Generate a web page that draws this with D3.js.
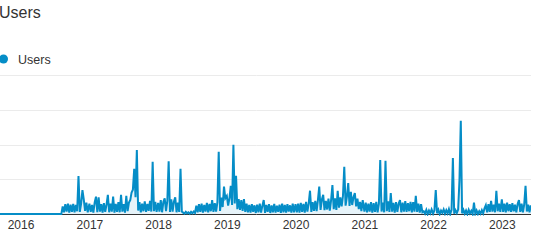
<!DOCTYPE html>
<html>
<head>
<meta charset="utf-8">
<script src="https://cdn.jsdelivr.net/npm/d3@7"></script>
<style>
    html, body { margin: 0; padding: 0; background: #fff; }
    svg { display: block; font-family: Arial, "Liberation Sans", sans-serif; }
</style>
</head>
<body>
<script>
// weekly users, one array per year (2015 starts mid september)
var users2015 = [0,0,0,0,0,0,0,0,0,0,0,0,0,0,0,0];
var users2016 = [0,0,0,0,0,0,0,0,0,0,0,0,0,0,0,0,0,0,0,0,0,0,0,0,0,0,0,0,0,0,0,0,
    22,5,28,7,30,4,27,6,29,5,26,8,109,6,30,69,42,9,33,5];
var users2017 = [30,6,26,4,33,50,5,48,7,28,4,31,6,27,55,5,30,7,50,4,29,6,34,5,55,7,
    28,4,52,8,33,40,62,70,130,48,184,10,34,5,30,8,36,6,29,9,38,7,150,8,35,6];
var users2018 = [32,7,40,5,35,45,8,38,152,6,42,7,36,48,5,33,6,130,7,4,1,6,2,5,1,6,
    2,7,3,24,5,28,6,30,4,26,7,32,5,29,8,40,6,31,7,34,179,9,47,20,79,45];
var users2019 = [52,24,45,81,26,199,30,110,14,43,12,40,9,43,6,30,5,26,4,28,6,25,3,27,5,30,
    4,24,40,3,26,6,28,3,25,5,29,4,24,6,27,3,30,5,26,4,28,7,25,4,30,5];
var users2020 = [28,5,30,4,32,6,29,4,35,7,30,67,6,34,9,38,8,40,79,12,42,55,11,38,13,44,
    10,40,83,14,45,12,67,18,48,22,52,136,24,50,89,23,64,26,48,60,22,44,14,35,8,40];
var users2021 = [7,33,5,30,7,34,4,31,6,35,5,30,155,7,33,5,153,8,36,6,60,7,32,4,34,6,
    30,40,5,33,7,37,6,31,8,35,5,34,7,52,6,30,4,28,5,8,1,12,0,10,2,13];
var users2022 = [1,11,69,2,12,0,10,3,13,1,11,2,14,0,12,161,1,11,3,13,98,268,2,12,1,10,
    0,12,2,9,0,33,1,10,0,8,1,11,2,16,25,5,28,6,38,7,27,5,67,8,30,6];
var users2023 = [42,6,30,5,33,8,28,6,31,8,27,5,29,40,6,30,5,28,81,7,27,5,25];

var yearLabels = ["2016", "2017", "2018", "2019", "2020", "2021", "2022", "2023"];
var gridValues = [100, 200, 300, 400];

var width = 545, height = 246;
var plot = { left: 0, right: 531, top: 75, bottom: 214 };

var blocks = [
    { start: new Date(2015, 8, 14), values: users2015 },
    { start: new Date(2016, 0, 1), values: users2016 },
    { start: new Date(2017, 0, 1), values: users2017 },
    { start: new Date(2018, 0, 1), values: users2018 },
    { start: new Date(2019, 0, 1), values: users2019 },
    { start: new Date(2020, 0, 1), values: users2020 },
    { start: new Date(2021, 0, 1), values: users2021 },
    { start: new Date(2022, 0, 1), values: users2022 },
    { start: new Date(2023, 0, 1), values: users2023 }
];

var data = [];
blocks.forEach(function(b) {
    b.values.forEach(function(v, k) {
        var d = new Date(b.start);
        d.setDate(d.getDate() + 7 * k);
        data.push({ date: d, value: v });
    });
});

var x = d3.scaleTime()
    .domain([new Date(2015, 8, 14), new Date(2023, 5, 5)])
    .range([plot.left, plot.right]);
var y = d3.scaleLinear()
    .domain([0, 400])
    .range([plot.bottom, plot.top]);

var svg = d3.select("body").append("svg")
    .attr("width", width)
    .attr("height", height);

// title and legend
svg.append("text")
    .attr("x", -1)
    .attr("y", 18)
    .attr("font-size", 16)
    .attr("fill", "#333")
    .text("Users");

svg.append("circle")
    .attr("cx", 3.5)
    .attr("cy", 59)
    .attr("r", 4.5)
    .attr("fill", "#058dc7");

svg.append("text")
    .attr("x", 18)
    .attr("y", 63.5)
    .attr("font-size", 12.5)
    .attr("fill", "#333")
    .text("Users");

// gridlines
svg.append("g")
    .selectAll("line")
    .data(gridValues)
    .enter().append("line")
    .attr("x1", plot.left)
    .attr("x2", plot.right)
    .attr("y1", function(d) { return Math.round(y(d)) + 0.5; })
    .attr("y2", function(d) { return Math.round(y(d)) + 0.5; })
    .attr("stroke", "#ebebeb")
    .attr("stroke-width", 1);

// x axis labels
var xAxis = d3.axisBottom(x)
    .tickValues(yearLabels.map(function(s) { return new Date(+s, 0, 1); }))
    .tickFormat(d3.timeFormat("%Y"))
    .tickSize(0)
    .tickPadding(0);

var gx = svg.append("g")
    .attr("transform", "translate(0," + plot.bottom + ")")
    .call(xAxis);
gx.select(".domain").remove();
gx.selectAll("text")
    .attr("y", 15)
    .attr("dy", 0)
    .attr("font-size", 12)
    .attr("font-family", "Arial, 'Liberation Sans', sans-serif")
    .attr("fill", "#333");

// axis baseline
svg.append("line")
    .attr("x1", plot.left)
    .attr("x2", plot.right)
    .attr("y1", plot.bottom + 0.5)
    .attr("y2", plot.bottom + 0.5)
    .attr("stroke", "#333")
    .attr("stroke-width", 1);

svg.append("clipPath")
    .attr("id", "clip")
    .append("rect")
    .attr("x", plot.left)
    .attr("y", 0)
    .attr("width", plot.right - plot.left)
    .attr("height", plot.bottom + 2);

var area = d3.area()
    .x(function(d) { return x(d.date); })
    .y0(y(0))
    .y1(function(d) { return y(d.value); });

var line = d3.line()
    .x(function(d) { return x(d.date); })
    .y(function(d) { return y(d.value); });

var g = svg.append("g").attr("clip-path", "url(#clip)");

g.append("path")
    .datum(data)
    .attr("d", area)
    .attr("fill", "#e6f3f9");

g.append("path")
    .datum(data)
    .attr("d", line)
    .attr("fill", "none")
    .attr("stroke", "#058dc7")
    .attr("stroke-width", 2)
    .attr("stroke-linejoin", "miter");
</script>
</body>
</html>
